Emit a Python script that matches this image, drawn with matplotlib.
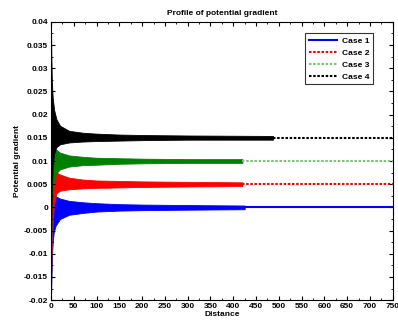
import matplotlib
matplotlib.use('Agg')
import matplotlib.pyplot as plt
from matplotlib.ticker import MultipleLocator, FuncFormatter

plt.rcParams['font.family'] = ['Liberation Sans', 'DejaVu Sans']
plt.rcParams['font.weight'] = 'bold'

# envelopes of the oscillating profiles
dist_1 = [0, 1, 2, 4, 6, 10, 20, 40, 70, 100, 150, 200, 300, 425]
upper_1 = [-0.02, -0.006, 0.0, 0.0018, 0.0023, 0.0024, 0.0019, 0.0014, 0.0011, 0.0009, 0.0007, 0.0006, 0.0005, 0.0004]
lower_1 = [-0.02, -0.016, -0.011, -0.0075, -0.0055, -0.004, -0.0025, -0.0016, -0.0012, -0.0009, -0.0007, -0.0006, -0.0005, -0.0004]

dist_2 = [0, 1, 2, 4, 7, 12, 20, 40, 70, 100, 150, 200, 300, 420]
upper_2 = [-0.016, -0.004, 0.002, 0.005, 0.0068, 0.0075, 0.0071, 0.0064, 0.006, 0.0058, 0.0057, 0.0056, 0.0055, 0.0054]
lower_2 = [-0.016, -0.012, -0.008, -0.003, 0.0005, 0.003, 0.0036, 0.0039, 0.0041, 0.0042, 0.0043, 0.0044, 0.0045, 0.0046]

dist_3 = [0, 1, 2, 4, 7, 12, 20, 40, 70, 100, 150, 200, 300, 420]
upper_3 = [-0.011, 0.0, 0.006, 0.0105, 0.012, 0.0124, 0.0118, 0.0112, 0.0109, 0.0107, 0.0106, 0.0105, 0.0104, 0.0104]
lower_3 = [-0.011, -0.007, -0.002, 0.003, 0.0055, 0.0074, 0.0082, 0.0088, 0.0091, 0.0092, 0.0094, 0.0095, 0.0096, 0.0096]

dist_4 = [0, 1, 2, 4, 7, 12, 20, 40, 70, 100, 150, 200, 300, 487]
upper_4 = [0.04, 0.032, 0.027, 0.0235, 0.021, 0.019, 0.0176, 0.0165, 0.0161, 0.0159, 0.0157, 0.0156, 0.0155, 0.0154]
lower_4 = [-0.008, -0.002, 0.004, 0.009, 0.0115, 0.013, 0.0136, 0.014, 0.0142, 0.0143, 0.0144, 0.0145, 0.0146, 0.0146]

# settled values
steady = [0.0, 0.005, 0.01, 0.015]
x_end = 750
labels = ['Case 1', 'Case 2', 'Case 3', 'Case 4']

band_colors = ['#0000ff', '#ff0000', '#008000', '#000000']
line_colors = ['#0000ff', '#ff0000', '#7cc47c', '#000000']
line_styles = ['-', (0, (1.2, 0.8)), (0, (1.2, 0.8)), (0, (1.2, 0.8))]

fig = plt.figure(figsize=(3.98, 3.22), dpi=100)
ax = fig.add_axes([0.128, 0.068, 0.859, 0.864])

bands = [(dist_1, upper_1, lower_1), (dist_2, upper_2, lower_2),
         (dist_3, upper_3, lower_3), (dist_4, upper_4, lower_4)]

for i, (d, up, lo) in enumerate(bands):
    ax.fill_between(d, lo, up, color=band_colors[i], linewidth=0.6, edgecolor=band_colors[i])
    ax.plot([d[-1], x_end], [steady[i], steady[i]], color=line_colors[i],
            linestyle=line_styles[i], linewidth=1.5, label=labels[i])

ax.set_xlim(0, 750)
ax.set_ylim(-0.02, 0.04)
ax.xaxis.set_major_locator(MultipleLocator(50))
ax.xaxis.set_minor_locator(MultipleLocator(25))
ax.yaxis.set_major_locator(MultipleLocator(0.005))
ax.yaxis.set_minor_locator(MultipleLocator(0.0025))
ax.yaxis.set_major_formatter(FuncFormatter(lambda v, p: '%g' % round(v, 4)))
ax.tick_params(which='both', direction='in', top=True, right=True, labelsize=6, pad=2)
ax.tick_params(which='major', length=3, width=0.8)
ax.tick_params(which='minor', length=1.5, width=0.6)
for s in ax.spines.values():
    s.set_linewidth(0.8)

ax.set_title('Profile of potential gradient', fontsize=6, fontweight='bold', pad=5)
ax.set_xlabel('Distance', fontsize=6, fontweight='bold', labelpad=1)
ax.set_ylabel('Potential gradient', fontsize=6, fontweight='bold', labelpad=2)

leg = ax.legend(loc='upper right', bbox_to_anchor=(0.9415, 0.960), borderaxespad=0,
                fontsize=6, frameon=True, fancybox=False, handlelength=3.4,
                labelspacing=0.5, borderpad=0.45, handletextpad=0.5)
leg.get_frame().set_edgecolor('black')
leg.get_frame().set_linewidth(0.8)

fig.savefig('out.png', dpi=100)
